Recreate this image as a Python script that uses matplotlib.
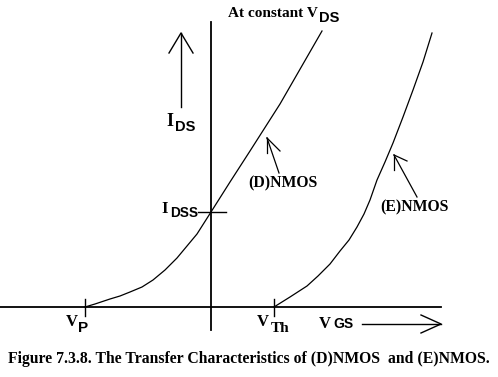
import matplotlib.pyplot as plt

# curve samples, in pixel coordinates (y down)
d_curve_x = [85, 95, 110, 120, 130, 142, 153, 165, 177, 187, 197, 204, 211, 230, 250, 280, 322]
d_curve_y = [307, 304, 299, 296, 292, 287, 280, 270, 258, 246, 234, 223, 212, 182, 151, 104, 31]
e_curve_x = [274, 290, 307, 318, 330, 340, 349, 357, 364, 370, 377, 385, 393, 403, 413, 423, 432]
e_curve_y = [307, 297, 286, 276, 264, 251, 240, 227, 214, 200, 180, 162, 143, 117, 90, 62, 33]

caption = "Figure 7.3.8. The Transfer Characteristics of (D)NMOS  and (E)NMOS."

fig = plt.figure(figsize=(4.98, 3.77), dpi=100)
ax = fig.add_axes([0, 0, 1, 1])
ax.set_xlim(0, 498)
ax.set_ylim(377, 0)
ax.axis("off")

serif = "Liberation Serif"
sans = "Liberation Sans"

def txt(x, y, s, size=11, family=serif):
    # y is the baseline
    ax.text(x, y, s, fontfamily=family, fontweight="bold", fontsize=size,
            ha="left", va="baseline")

# axes
ax.plot([211, 211], [22, 330], color="black", lw=1.3)
ax.plot([0, 441], [307, 307], color="black", lw=1.3)

# curves
ax.plot(d_curve_x, d_curve_y, color="black", lw=0.9)
ax.plot(e_curve_x, e_curve_y, color="black", lw=0.9)

# tick marks
ax.plot([85, 85], [299, 316], color="black", lw=1)
ax.plot([274, 274], [299, 316], color="black", lw=1)
ax.plot([198, 226], [212, 212], color="black", lw=1)

# I_DS arrow
ax.plot([181, 181], [33, 107], color="black", lw=1)
ax.plot([169, 181, 193], [53, 33, 53], color="black", lw=1)

# V_GS arrow
ax.plot([362, 441], [324, 324], color="black", lw=1)
ax.plot([421, 441, 421], [315, 324, 333], color="black", lw=1)

# annotation arrows
ax.plot([279, 267], [173, 138], color="black", lw=0.9)
ax.plot([267, 267], [153, 138], color="black", lw=0.9)
ax.plot([280, 267], [151, 138], color="black", lw=0.9)
ax.plot([417, 394], [197, 155], color="black", lw=0.9)
ax.plot([394, 394], [170, 155], color="black", lw=0.9)
ax.plot([407, 394], [161, 155], color="black", lw=0.9)

# labels
txt(228, 17, "At constant V", 11)
txt(319, 22, "DS", 10.5, sans)
txt(166, 126, "I", 13)
txt(175, 131, "DS", 10.5, sans)
txt(248, 187, "(D)NMOS", 11.3)
txt(380, 211, "(E)NMOS", 11.3)
txt(161, 213, "I", 12)
txt(170, 217, "DSS", 9.8, sans)
txt(66, 326, "V", 12)
txt(78, 332, "P", 11, sans)
txt(257, 326, "V", 12)
txt(271, 332, "Th", 11)
txt(319, 328, "V", 12)
txt(333, 328, "GS", 10, sans)
txt(8, 363, caption, 11.3)

fig.savefig("out.png", dpi=100)
